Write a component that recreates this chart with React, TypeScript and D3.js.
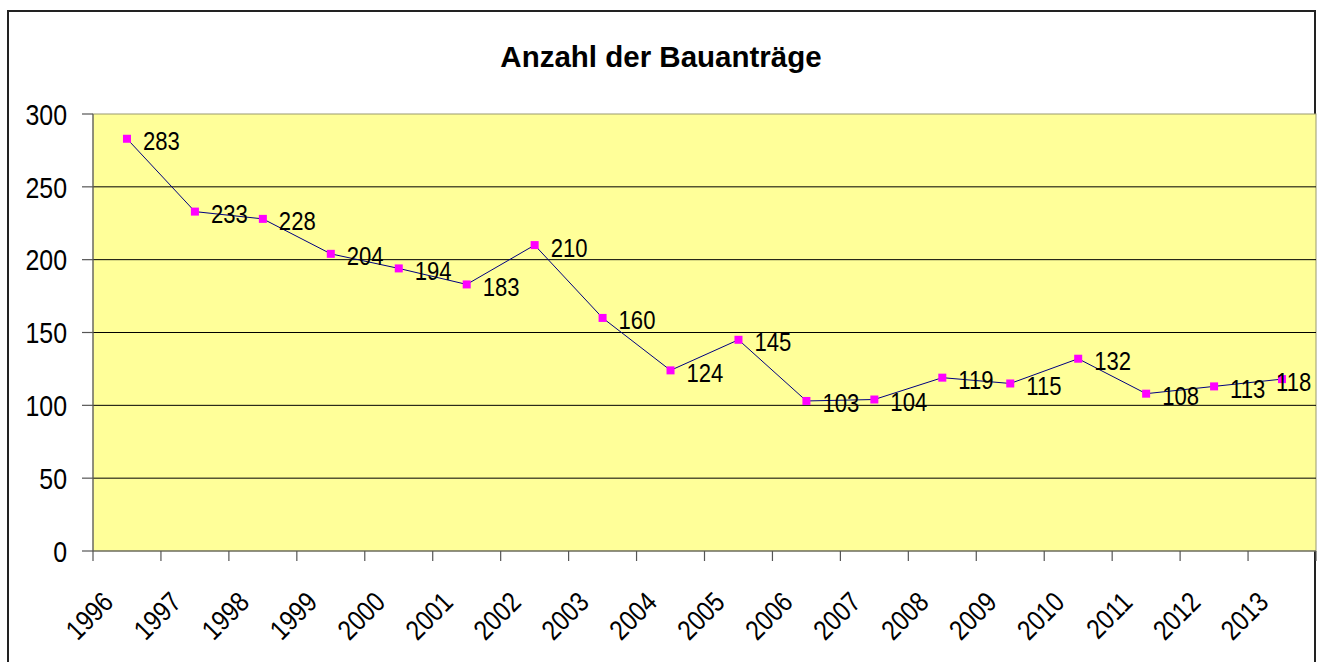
import React from 'react'
import * as d3 from 'd3'

const years = ['1996', '1997', '1998', '1999', '2000', '2001', '2002', '2003', '2004',
  '2005', '2006', '2007', '2008', '2009', '2010', '2011', '2012', '2013']
const counts = [283, 233, 228, 204, 194, 183, 210, 160, 124, 145, 103, 104, 119, 115, 132, 108, 113, 118]
const yTicks = [0, 50, 100, 150, 200, 250, 300]
const title = 'Anzahl der Bauanträge'

const font = '"Liberation Sans", Arial, sans-serif'

export default function App() {
  const width = 1324
  const height = 662
  const left = 93
  const right = 1316
  const top = 114
  const bottom = 551

  const x = d3.scaleBand<string>().domain(years).range([left, right]).padding(0)
  const y = d3.scaleLinear().domain([0, 300]).range([bottom, top])
  const cx = (d: string) => (x(d) as number) + x.bandwidth() / 2

  const line = d3.line<number>()
    .x((d, i) => cx(years[i]))
    .y(d => y(d))

  const boundaries = years.map(d => x(d) as number).concat([right])

  // labels sit right of the marker, but are pulled back inside the plot area when they would overflow
  const labelX = (i: number) => Math.min(cx(years[i]) + 16, right - 40)

  return (
    <svg width={width} height={height} style={{ position: 'absolute', left: 0, top: 0 }}>
      <rect x={0} y={0} width={width} height={height} fill="#fff" />
      <rect x={8} y={11} width={1307} height={700} fill="none" stroke="#222" strokeWidth={2} />

      <text x={661} y={67} textAnchor="middle" fontFamily={font} fontWeight="bold" fontSize={29.5}>
        {title}
      </text>

      <rect x={left} y={top} width={right - left} height={bottom - top} fill="#FFFF99" stroke="#9a9a70" strokeWidth={1} />

      {yTicks.filter(t => t > 0 && t < 300).map(t => (
        <line key={`g${t}`} x1={left} x2={right} y1={y(t)} y2={y(t)} stroke="#000" strokeWidth={1} />
      ))}

      {/* axes */}
      <line x1={left} x2={left} y1={top} y2={bottom} stroke="#666" strokeWidth={1.2} />
      <line x1={left} x2={right} y1={bottom} y2={bottom} stroke="#555" strokeWidth={1.2} />
      {yTicks.map(t => (
        <g key={`yt${t}`}>
          <line x1={left - 11} x2={left} y1={y(t)} y2={y(t)} stroke="#555" strokeWidth={1.2} />
          <text transform={`translate(67, ${y(t) + 10.8}) scale(0.83, 1)`} textAnchor="end"
            fontFamily={font} fontSize={30}>{t}</text>
        </g>
      ))}
      {boundaries.map((b, i) => (
        <line key={`xt${i}`} x1={b} x2={b} y1={bottom} y2={bottom + 10} stroke="#555" strokeWidth={1.2} />
      ))}
      {years.map(d => (
        <text key={`xl${d}`} transform={`translate(${cx(d) - 12}, 604) rotate(-45) scale(0.85, 1)`}
          textAnchor="end" fontFamily={font} fontSize={28}>{d}</text>
      ))}

      <path d={line(counts) as string} fill="none" stroke="#000080" strokeWidth={1} />
      {counts.map((v, i) => (
        <rect key={`m${i}`} x={cx(years[i]) - 4} y={y(v) - 4} width={8} height={8} fill="#FF00FF" />
      ))}
      {counts.map((v, i) => (
        <text key={`l${i}`} transform={`translate(${labelX(i)}, ${y(v) + 11.5}) scale(0.85, 1)`}
          fontFamily={font} fontSize={26}>{v}</text>
      ))}
    </svg>
  )
}
